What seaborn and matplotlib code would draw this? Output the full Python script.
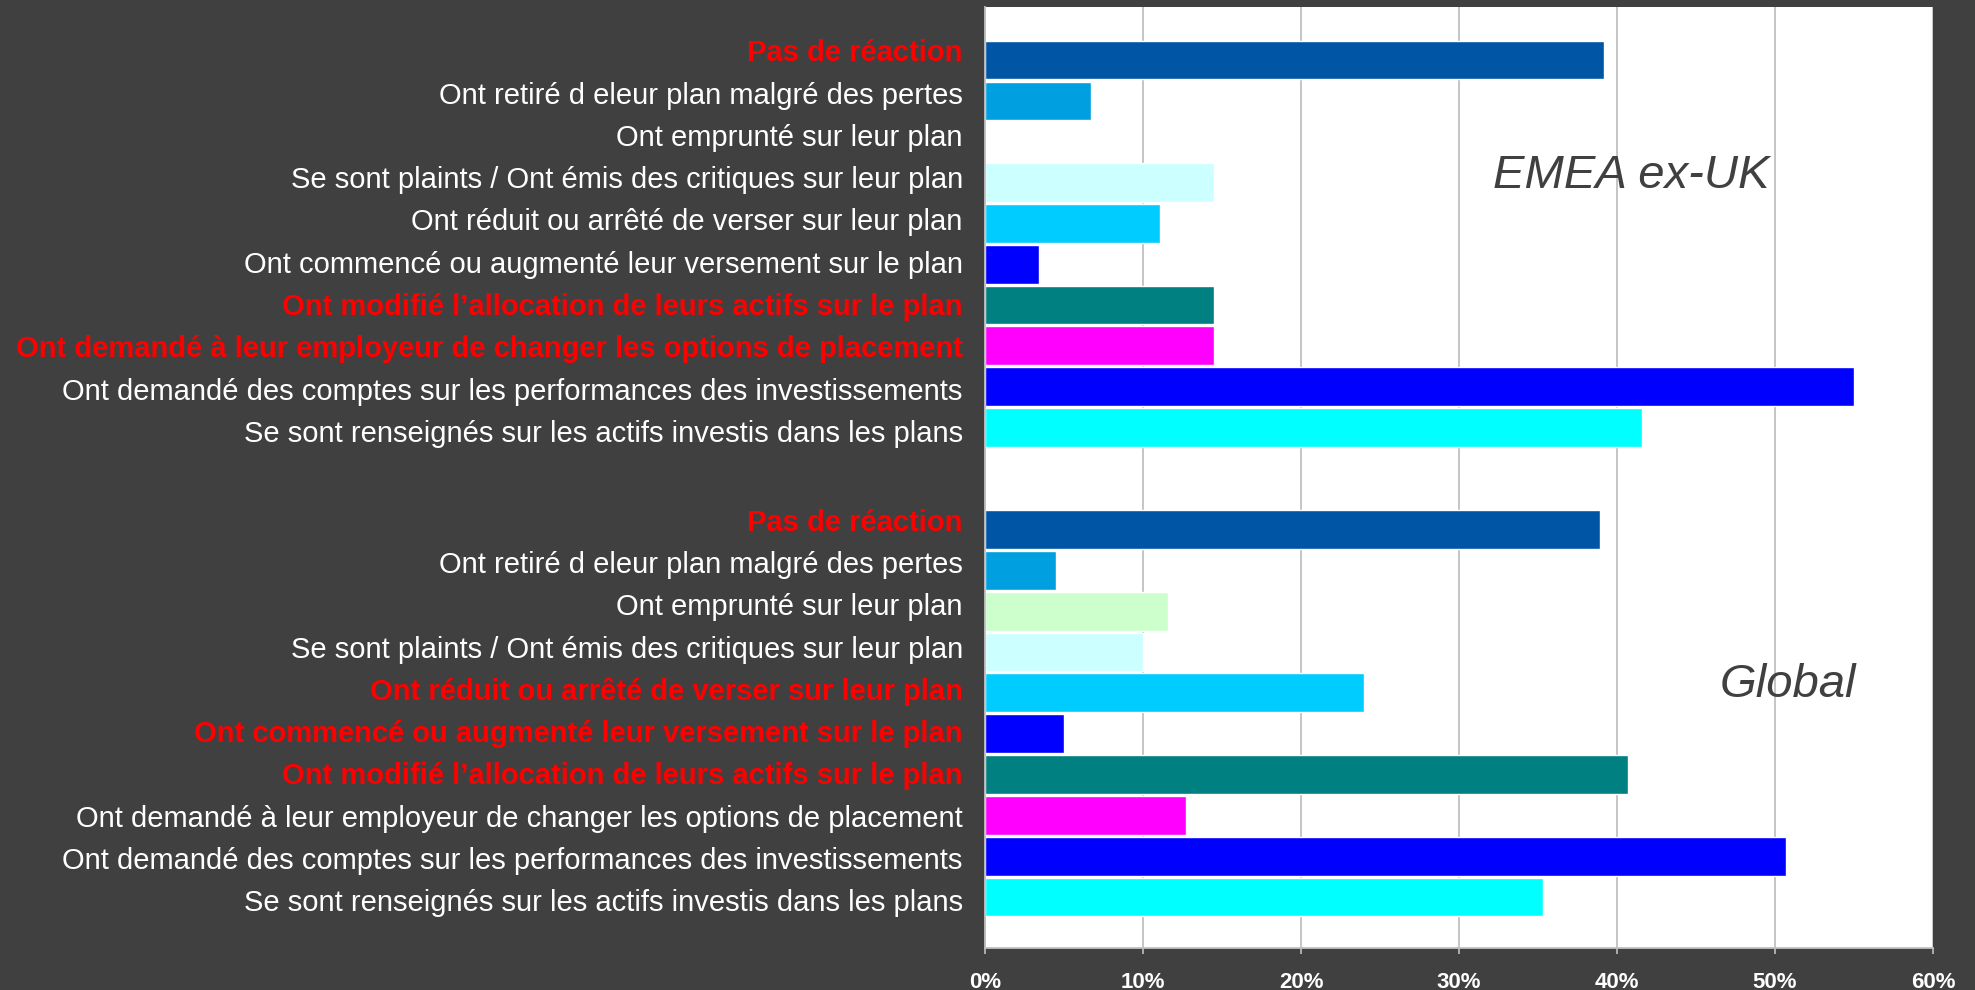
import matplotlib
matplotlib.use("Agg")
import matplotlib.pyplot as plt
import seaborn as sns
import pandas as pd
from matplotlib.ticker import FuncFormatter

# Response categories (top to bottom within each region block)
categories = [
    "Pas de réaction",
    "Ont retiré d eleur plan malgré des pertes",
    "Ont emprunté sur leur plan",
    "Se sont plaints / Ont émis des critiques sur leur plan",
    "Ont réduit ou arrêté de verser sur leur plan",
    "Ont commencé ou augmenté leur versement sur le plan",
    "Ont modifié l’allocation de leurs actifs sur le plan",
    "Ont demandé à leur employeur de changer les options de placement",
    "Ont demandé des comptes sur les performances des investissements",
    "Se sont renseignés sur les actifs investis dans les plans",
]

# Share of respondents (%)
emea_values = [39.2, 6.7, 0.0, 14.5, 11.1, 3.4, 14.5, 14.5, 55.0, 41.6]
global_values = [38.9, 4.5, 11.6, 10.0, 24.0, 5.0, 40.7, 12.7, 50.7, 35.3]

# Labels emphasised in red for each block
emea_highlight = [True, False, False, False, False, False, True, True, False, False]
global_highlight = [True, False, False, False, True, True, True, False, False, False]

bar_colors = ["#0055A5", "#00A0E0", "#CCFFCC", "#CCFFFF", "#00CCFF",
              "#0000FF", "#008080", "#FF00FF", "#0000FF", "#00FFFF"]

region_names = ["EMEA ex-UK", "Global"]
x_ticks = [0, 10, 20, 30, 40, 50, 60]

BG = "#404040"

sns.set_theme(style="white")
plt.rcParams["font.family"] = ["Liberation Sans", "DejaVu Sans"]

# Vertical slot positions: first block 0..9, second block after a gap
emea_pos = [float(i) for i in range(10)]
global_pos = [11.5 + i for i in range(10)]

# The text labels run on a slightly looser pitch than the bars
label_step = 1.035
emea_label_pos = [-0.235 + i * label_step for i in range(10)]
global_label_pos = [11.26 + i * label_step for i in range(10)]

df = pd.DataFrame({
    "pos": emea_pos + global_pos,
    "value": emea_values + global_values,
    "row": [f"r{i}" for i in range(10)] * 2,
})
palette = {f"r{i}": c for i, c in enumerate(bar_colors)}

fig = plt.figure(figsize=(19.75, 9.9), dpi=100, facecolor=BG)
ax = fig.add_axes([985 / 1975, 1 - 948 / 990, (1933 - 985) / 1975, (948 - 7) / 990])
ax.set_facecolor("white")

sns.barplot(data=df, x="value", y="pos", hue="row", palette=palette,
            orient="h", native_scale=True, dodge=False, width=0.95,
            saturation=1, edgecolor="white", linewidth=1.0, legend=False,
            ax=ax)

ax.set_xlim(0, 60)
ax.set_ylim(21.75, -1.3)
ax.set_xticks(x_ticks)
ax.xaxis.set_major_formatter(FuncFormatter(lambda v, p: f"{v:.0f}%"))
ax.grid(axis="x", color="#C0C0C0", linewidth=1.3)
ax.grid(axis="y", visible=False)
ax.set_axisbelow(True)

for side in ["top", "right"]:
    ax.spines[side].set_visible(False)
for side in ["left", "bottom"]:
    ax.spines[side].set_visible(True)
    ax.spines[side].set_color("#C0C0C0")
    ax.spines[side].set_linewidth(1.3)

ax.tick_params(axis="x", which="major", bottom=True, direction="out", length=4,
               width=1.2, color="#C0C0C0", pad=13, labelsize=16,
               labelcolor="white")
for lab in ax.get_xticklabels():
    lab.set_fontweight("bold")

ax.set_yticks(emea_label_pos + global_label_pos)
ax.set_yticklabels(categories + categories)
ax.tick_params(axis="y", left=False, pad=10, labelsize=21)
highlights = emea_highlight + global_highlight
for lab, hl in zip(ax.get_yticklabels(), highlights):
    if hl:
        lab.set_color("#FF0000")
        lab.set_fontweight("bold")
    else:
        lab.set_color("white")

ax.set_xlabel("")
ax.set_ylabel("")

ax.text(40.9, 2.85, region_names[0], fontsize=34, style="italic",
        color=BG, ha="center", va="center")
ax.text(50.8, 15.3, region_names[1], fontsize=34, style="italic",
        color=BG, ha="center", va="center")

fig.savefig("out.png", dpi=100, facecolor=BG)
